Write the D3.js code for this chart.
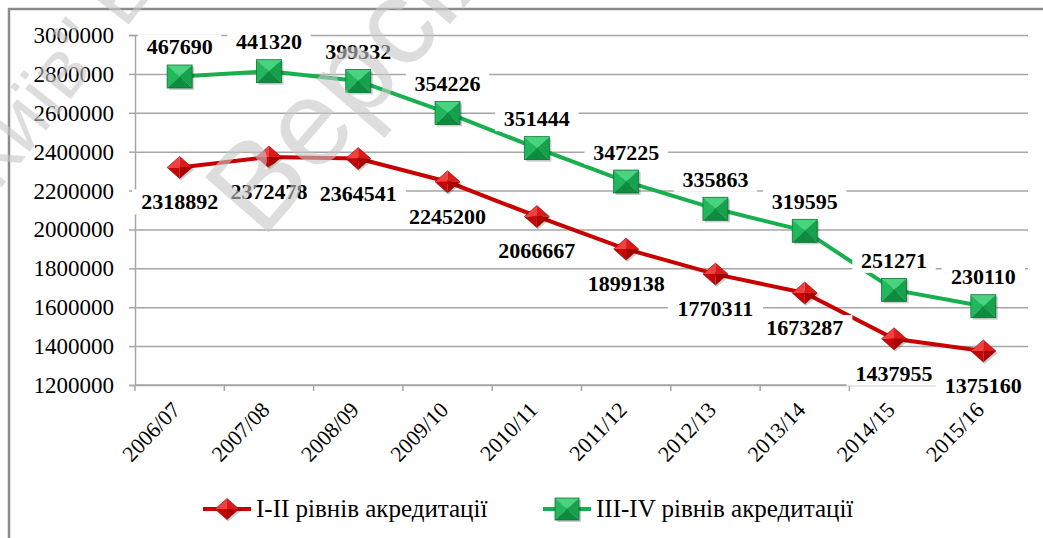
<!DOCTYPE html>
<html>
<head>
<meta charset="utf-8">
<script src="https://cdn.jsdelivr.net/npm/d3@7"></script>
<style>
body { margin: 0; background: #fff; }
</style>
</head>
<body>
<svg id="chart" width="1043" height="538"></svg>
<script>
// academic years
var years = ["2006/07", "2007/08", "2008/09", "2009/10", "2010/11",
             "2011/12", "2012/13", "2013/14", "2014/15", "2015/16"];
// I-II levels of accreditation
var lowLevel = [2318892, 2372478, 2364541, 2245200, 2066667,
                1899138, 1770311, 1673287, 1437955, 1375160];
// III-IV levels of accreditation (stacked on top of I-II)
var highLevel = [467690, 441320, 399332, 354226, 351444,
                 347225, 335863, 319595, 251271, 230110];
var yTicks = [1200000, 1400000, 1600000, 1800000, 2000000,
              2200000, 2400000, 2600000, 2800000, 3000000];
var seriesNames = ["I-II рівнів акредитації", "III-IV рівнів акредитації"];

var svg = d3.select("#chart");
var plotLeft = 135, plotRight = 1028, plotTop = 35, plotBottom = 385;
var serif = "'Liberation Serif'";

var x = d3.scaleBand().domain(years).range([plotLeft, plotRight]);
var y = d3.scaleLinear().domain([1200000, 3000000]).range([plotBottom, plotTop]);
var cx = function(d) { return x(d) + x.bandwidth() / 2; };

var lowPts = years.map(function(d, i) { return {year: d, value: lowLevel[i], label: lowLevel[i]}; });
var highPts = years.map(function(d, i) { return {year: d, value: lowLevel[i] + highLevel[i], label: highLevel[i]}; });

function serifText(parent, px, py, s) {
	return parent.append("text")
		.attr("x", px).attr("y", py)
		.style("font-family", serif)
		.text(s);
}

// outer frame (cropped at right/bottom)
svg.append("path").attr("d", "M9,538V9H1043").attr("fill", "none")
	.attr("stroke", "#8c8c8c").attr("stroke-width", 2.5);

// gridlines
svg.append("g")
	.attr("transform", "translate(" + plotLeft + ",0)")
	.call(d3.axisLeft(y).tickValues(yTicks).tickSize(-(plotRight - plotLeft)).tickFormat(""))
	.call(function(g) {
		g.select(".domain").remove();
		g.selectAll("line").attr("stroke", "#a6a6a6").attr("stroke-width", 1.5);
	});

// y axis
svg.append("g")
	.attr("transform", "translate(" + plotLeft + ",0)")
	.call(d3.axisLeft(y).tickValues(yTicks).tickSize(6).tickFormat(""))
	.call(function(g) {
		g.select(".domain").attr("stroke", "#a6a6a6").attr("stroke-width", 1.5);
		g.selectAll("line").attr("stroke", "#a6a6a6").attr("stroke-width", 1.5);
	});
var yLab = svg.append("g");
yTicks.forEach(function(v) {
	serifText(yLab, plotLeft - 21, y(v) + 8, d3.format("d")(v))
		.attr("text-anchor", "end").attr("font-size", 23).attr("fill", "#000");
});

// x axis: baseline + ticks at band edges
svg.append("line").attr("x1", plotLeft).attr("x2", plotRight).attr("y1", plotBottom).attr("y2", plotBottom)
	.attr("stroke", "#a6a6a6").attr("stroke-width", 1.5);
svg.append("g").selectAll("line")
	.data(years.map(function(d) { return x(d); }).concat([plotRight]))
	.enter().append("line")
		.attr("x1", function(d) { return d; }).attr("x2", function(d) { return d; })
		.attr("y1", plotBottom).attr("y2", plotBottom + 6)
		.attr("stroke", "#a6a6a6").attr("stroke-width", 1.5);
svg.append("g").selectAll("text")
	.data(years)
	.enter().append("text")
		.attr("transform", function(d) { return "translate(" + (cx(d) + 2) + "," + (plotBottom + 26) + ")rotate(-46)"; })
		.attr("text-anchor", "end")
		.attr("font-size", 22)
		.style("font-family", serif)
		.text(function(d) { return d; });

// markers
function diamond(g, w, h) {
	g.append("path").attr("d", "M1,-" + (h - 2) + "L" + (w + 2) + ",2L1," + (h + 2) + "L-" + (w - 2) + ",2Z")
		.attr("fill", "rgba(0,0,0,0.2)");
	var faces = [
		["M0,0L0,-" + h + "L-" + w + ",0Z", "#f24040"],
		["M0,0L0,-" + h + "L" + w + ",0Z", "#dc1a1a"],
		["M0,0L" + w + ",0L0," + h + "Z", "#a90000"],
		["M0,0L-" + w + ",0L0," + h + "Z", "#c40606"]
	];
	faces.forEach(function(f) { g.append("path").attr("d", f[0]).attr("fill", f[1]); });
	g.append("path").attr("d", "M0,-" + h + "L" + w + ",0L0," + h + "L-" + w + ",0Z")
		.attr("fill", "none").attr("stroke", "#900000").attr("stroke-width", 0.6);
}
function square(g, w, h) {
	g.append("rect").attr("x", -w + 2).attr("y", -h + 2).attr("width", 2 * w).attr("height", 2 * h)
		.attr("fill", "rgba(0,0,0,0.2)");
	var faces = [
		["M0,0L-" + w + ",-" + h + "L" + w + ",-" + h + "Z", "#48d47f"],
		["M0,0L-" + w + ",-" + h + "L-" + w + "," + h + "Z", "#21b85d"],
		["M0,0L" + w + ",-" + h + "L" + w + "," + h + "Z", "#16a24d"],
		["M0,0L-" + w + "," + h + "L" + w + "," + h + "Z", "#0d8c3f"]
	];
	faces.forEach(function(f) { g.append("path").attr("d", f[0]).attr("fill", f[1]); });
	g.append("rect").attr("x", -w).attr("y", -h).attr("width", 2 * w).attr("height", 2 * h)
		.attr("fill", "none").attr("stroke", "#0b7434").attr("stroke-width", 0.8);
}

var line = d3.line().x(function(d) { return cx(d.year); }).y(function(d) { return y(d.value); });

svg.append("path").datum(lowPts).attr("d", line)
	.attr("fill", "none").attr("stroke", "#c80000").attr("stroke-width", 4);
svg.append("path").datum(highPts).attr("d", line)
	.attr("fill", "none").attr("stroke", "#18b04e").attr("stroke-width", 4);

svg.append("g").selectAll("g").data(lowPts).enter().append("g")
	.attr("transform", function(d) { return "translate(" + cx(d.year) + "," + y(d.value) + ")"; })
	.each(function() { diamond(d3.select(this), 12.5, 11); });
svg.append("g").selectAll("g").data(highPts).enter().append("g")
	.attr("transform", function(d) { return "translate(" + cx(d.year) + "," + y(d.value) + ")"; })
	.each(function() { square(d3.select(this), 12.5, 11.5); });

// data labels with white boxes
function labels(pts, dy) {
	var g = svg.append("g");
	pts.forEach(function(d) {
		var lx = cx(d.year), ly = y(d.value) + dy;
		var s = String(d.label), w = s.length * 11.9;
		g.append("rect").attr("x", lx - w / 2 - 6).attr("y", ly - 13).attr("width", w + 12).attr("height", 25)
			.attr("fill", "#fff");
		serifText(g, lx, ly + 7, s)
			.attr("text-anchor", "middle").attr("font-size", 22).attr("font-weight", "bold");
	});
}
labels(lowPts, 35);
labels(highPts, -29);

// legend
var legend = [
	{name: seriesNames[0], x: 203, color: "#c80000", mark: diamond},
	{name: seriesNames[1], x: 543, color: "#18b04e", mark: square}
];
legend.forEach(function(l) {
	var g = svg.append("g").attr("transform", "translate(" + l.x + ",509)");
	g.append("line").attr("x1", 0).attr("x2", 48).attr("stroke", l.color).attr("stroke-width", 4);
	var m = g.append("g").attr("transform", "translate(24,0)");
	if (l.mark === diamond) diamond(m, 12, 10.5); else square(m, 12, 11);
	serifText(g, 53, 8, l.name).attr("font-size", 25);
});

// watermark
var wm = svg.append("g").attr("fill", "#c8c8c8").attr("opacity", 0.6);
wm.append("text").style("font-family", "'Liberation Sans'")
	.attr("transform", "translate(262,240)rotate(-49)").attr("font-size", 122).text("Версія");
wm.append("text").style("font-family", "'Liberation Sans'")
	.attr("transform", "translate(-20,215)rotate(-52)").attr("font-size", 80).text("\"Київ\" Електронна версія");
</script>
</body>
</html>
